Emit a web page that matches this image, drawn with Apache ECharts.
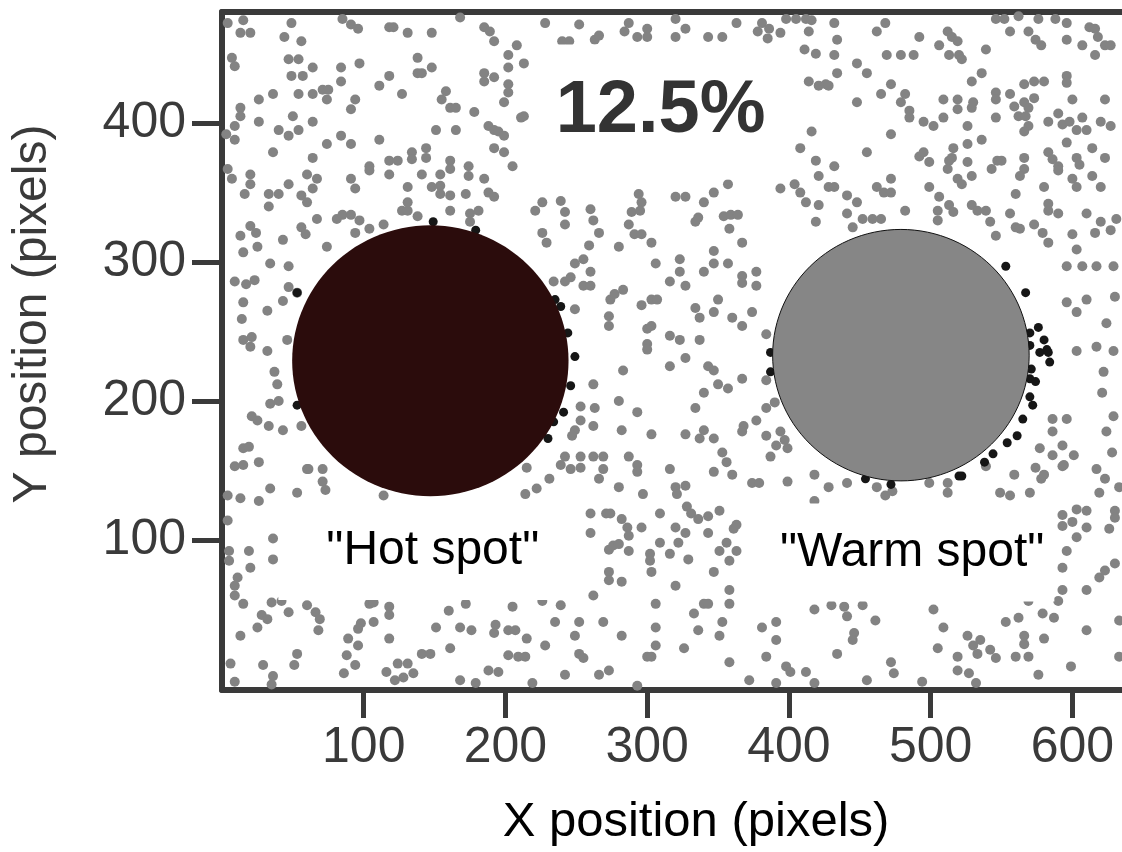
<!DOCTYPE html>
<html>
<head>
<meta charset="utf-8">
<script src="https://cdn.jsdelivr.net/npm/echarts@6/dist/echarts.min.js"></script>
<style>
html, body { margin: 0; padding: 0; background: #fff; }
#chart { width: 1122px; height: 852px; }
</style>
</head>
<body>
<div id="chart"></div>
<script>
var xTicks = [100, 200, 300, 400, 500, 600];
var yTicks = [100, 200, 300, 400];

// particle positions (x, y in pixels of the original frame)
var grayDots = [
  [15,474],[13,465],[20,465],[4,472],[49,472],[44,462],[56,459],[85,475],[91,471],[96,468],[118,469],[121,469],[131,465],[148,465],[168,476],[185,469],[189,466],[192,459],[208,456],[7,447],[9,441],[47,446],[54,446],[64,440],[84,440],[97,443],[138,447],[138,436],[141,436],[148,440],[49,434],[57,434],[84,430],[118,434],[111,427],[185,436],[185,430],[192,433],[202,449],[202,440],[202,428],[202,422],[71,424],[75,424],[74,417],[26,417],[36,421],[54,421],[64,421],[94,417],[91,410],[127,421],[158,423],[155,417],[161,411],[165,411],[178,408],[199,415],[13,411],[13,405],[9,398],[3,392],[9,388],[26,401],[50,405],[54,395],[47,391],[40,395],[64,401],[84,391],[91,385],[74,385],[111,388],[151,395],[165,395],[188,398],[192,395],[195,394],[199,391],[211,404],[192,382],[199,379],[36,379],[64,375],[104,369],[104,366],[118,373],[124,373],[134,379],[134,374],[144,382],[144,375],[161,373],[161,367],[174,369],[174,362],[205,369],[4,367],[7,360],[20,363],[20,356],[16,349],[60,363],[67,360],[64,353],[91,360],[94,353],[118,363],[141,363],[154,363],[154,355],[154,349],[148,354],[161,348],[172,349],[185,360],[188,350],[192,347],[47,356],[33,349],[40,349],[33,340],[56,348],[60,343],[131,354],[131,343],[127,337],[131,337],[161,337],[175,335],[175,329],[181,337],[67,331],[81,331],[85,334],[91,334],[97,330],[104,324],[114,327],[138,333],[20,326],[24,321],[13,319],[56,325],[59,320],[94,321],
  [228,472],[252,471],[240,459],[245,459],[263,460],[266,463],[284,466],[287,472],[293,462],[300,468],[300,462],[320,475],[320,462],[327,468],[343,462],[353,462],[363,472],[378,466],[381,472],[386,468],[385,461],[394,465],[398,475],[405,475],[412,475],[416,474],[414,466],[411,453],[419,450],[213,443],[213,405],[414,430],[421,427],[416,394],[408,382],[419,373],[421,362],[294,349],[296,343],[320,347],[327,347],[340,343],[347,350],[357,356],[394,353],[404,356],[408,350],[412,343],[221,337],[226,343],[239,344],[242,336],[242,327],[260,338],[262,330],[266,321],[289,336],[295,337],[287,327],[334,329],[336,332],[354,333],[359,334],[364,334],[358,324],[421,341],[419,329],[226,321],[291,320],[296,320],
  [432,472],[468,472],[462,466],[434,460],[432,449],[434,436],[492,462],[506,456],[512,466],[515,462],[519,459],[513,449],[520,449],[522,446],[539,453],[546,475],[552,475],[562,477],[576,475],[588,475],[596,472],[556,466],[569,466],[574,460],[578,456],[596,460],[607,456],[612,469],[616,468],[618,462],[623,456],[627,456],[616,449],[469,449],[479,449],[488,449],[448,443],[455,436],[426,428],[428,427],[529,430],[536,436],[566,428],[573,430],[580,430],[596,434],[596,429],[472,428],[465,421],[482,421],[479,415],[485,409],[485,404],[448,415],[509,417],[519,417],[519,410],[530,415],[529,411],[546,422],[546,417],[556,421],[559,412],[566,415],[569,411],[573,418],[562,405],[567,405],[569,398],[566,394],[600,417],[623,417],[495,401],[502,398],[509,404],[526,398],[546,404],[590,407],[583,401],[593,399],[598,401],[607,404],[603,395],[610,395],[620,401],[627,398],[472,392],[536,388],[526,385],[516,382],[596,386],[614,382],[455,379],[492,376],[495,379],[499,372],[513,373],[515,375],[512,367],[526,372],[529,362],[519,360],[522,356],[543,367],[547,373],[550,373],[566,375],[566,367],[563,362],[583,379],[586,374],[590,369],[590,366],[603,375],[605,370],[623,375],[432,369],[600,360],[603,354],[614,362],[472,360],[467,350],[472,350],[462,354],[428,354],[432,354],[499,354],[506,347],[560,349],[580,354],[620,354],[441,348],[448,343],[482,337],[505,337],[505,330],[513,341],[516,336],[529,341],[533,337],[539,337],[542,329],[556,335],[583,342],[583,337],[590,335],[610,335],[441,335],[452,331],[459,331],[465,331],[445,325],[560,325],[563,324],[573,327],[579,321],[546,319],[600,320],[620,329],[631,331],[627,323],[616,321],
  [303,314],[367,314],[229,314],[259,312],[255,302],[249,299],[260,293],[280,311],[306,299],[323,302],[323,293],[327,283],[340,293],[347,308],[347,299],[357,299],[367,290],[367,285],[377,293],[377,283],[234,286],[242,286],[246,289],[255,283],[260,283],[316,286],[274,273],[277,277],[283,280],[273,261],[273,254],[296,269],[303,273],[307,273],[300,252],[303,254],[300,241],[300,237],[249,266],[334,267],[337,260],[347,264],[350,273],[360,260],[367,254],[374,264],[316,247],[323,244],[337,244],[384,248],[327,231],[316,225],[343,225],[347,222],[350,212],[357,209],[340,206],[367,216],[384,215],[283,222],[262,212],[280,200],[293,192],[334,195],[253,196],[253,186],[249,179],[247,175],[263,195],[262,182],[282,179],[303,176],[327,176],[340,179],[337,173],[347,173],[368,182],[367,178],[377,186],[384,195],[390,199],[384,175],[394,178],[391,168],[397,172],[399,166],[239,154],[242,160],[246,151],[253,160],[253,152],[262,160],[269,160],[269,151],[266,144],[287,160],[293,154],[293,149],[353,163],[356,156],[360,147],[347,149],[316,151],[387,160],[231,144],[280,138],[320,138],[327,139],[321,133],[374,141],[379,141],[399,142],[297,133],
  [15,307],[25,311],[34,299],[47,297],[9,286],[17,284],[23,287],[15,271],[14,259],[15,244],[32,265],[43,272],[47,282],[53,278],[21,246],[32,236],[46,244],[74,311],[43,316],
  [20,239],[37,221],[39,212],[34,198],[40,200],[21,189],[25,186],[33,182],[43,179],[56,182],[15,166],[19,167],[9,153],[15,154],[26,156],[4,132],[13,130],[26,128],[34,137],[53,134],[61,151],[71,151],[71,142],[73,136],[60,151],[114,132],
  [4,114],[5,92],[5,85],[11,73],[9,67],[9,60],[15,54],[13,31],[28,46],[32,43],[25,37],[35,55],[42,56],[47,48],[60,53],[66,48],[69,43],[68,35],[19,92],[20,80],[36,86],[36,101],[104,54],[107,55],[118,52],[118,46],[98,40],[96,36],[107,41],[118,29],[89,29],[96,24],[151,37],[160,49],[172,54],[168,37],[176,35],[193,39],[192,33],[202,35],[207,35],[141,18],[147,18],[161,22],[124,11],[131,11],[128,1],[135,4],[116,5],[122,-1],[94,10],[86,4],[88,17],[53,18],[51,10],[29,10],[36,2],[6,11],[9,-2],[188,6],[195,5],[202,17],[209,16],[168,-1],[179,-3],[205,52],[35,-4],
  [215,152],[214,133],[222,137],[418,147],[418,128],[260,119],[260,105],[271,119],[274,119],[282,115],[286,109],[287,103],[287,92],[273,93],[276,96],[280,97],[296,109],[273,77],[273,71],[282,70],[302,90],[302,85],[303,77],[309,119],[309,98],[316,90],[320,109],[322,98],[327,105],[328,124],[331,119],[336,115],[343,117],[351,121],[329,86],[343,105],[351,92],[356,98],[361,108],[363,111],[363,92],[358,85],[347,77],[320,67],[262,60],[358,64],[358,54],[306,54],[340,54],[343,54],[333,47],[226,56],[239,53],[235,41],[252,41],[269,41],[249,31],[252,18],[255,15],[282,31],[215,29],[228,24],[306,37],[306,24],[336,35],[351,31],[353,41],[214,16],[300,16],[303,16],[326,22],[358,12],[381,37],[391,41],[391,28],[384,16],[398,9],[401,5],[412,5],[418,50],[242,3],[266,3],[273,6],[219,-3],[293,-5],[372,-1],[391,-3],[418,-3],
  [428,138],[441,141],[462,138],[468,132],[473,135],[499,141],[512,141],[512,134],[539,153],[559,147],[570,134],[578,144],[580,147],[574,152],[549,134],[556,132],[593,153],[619,134],[623,144],[633,138],[593,118],[593,110],[603,122],[610,121],[600,113],[610,109],[603,102],[596,92],[593,80],[593,64],[590,56],[610,64],[619,73],[623,78],[630,83],[626,108],[630,121],[630,116],[430,53],[439,52],[441,45],[452,53],[461,42],[446,33],[445,28],[434,18],[472,12],[474,4],[502,50],[509,37],[505,22],[526,31],[530,24],[533,18],[535,28],[542,21],[546,15],[519,16],[519,6],[527,4],[532,-3],[553,41],[562,44],[566,31],[566,25],[580,29],[560,16],[569,16],[576,3],[569,56],[579,47],[587,44],[610,35],[599,9],[633,42],[633,16],[455,-1],[494,-2],
  [583,314],[596,297],[607,297],[617,297],[629,297],[603,309],[596,271],[603,264],[610,273],[630,275],[624,256],[603,236],[617,239],[629,236],[622,221],[621,206],[629,189],[624,178],[628,163],[617,151],[586,187],[596,187],[586,178],[577,166],[593,168],[586,161],[601,161],[594,154]
];

// darker particles crowding the rims of the two spots
var darkDots = [
  [149,329],[179,323],[235,273],[239,268],[244,249],[249,232],[246,211],[241,192],[234,185],[230,173],[53,197],[53,278],
  [553,297],[567,278],[570,249],[576,253],[582,237],[580,244],[570,240],[577,235],[583,235],[570,216],[572,197],[565,187],[561,175],[554,170],[538,156],[522,146],[387,235],[387,221],[454,144],[472,140],[520,146],
  [584,228],[571,223],[574,214],[570,203],[544,162]
];

// spot = [x centre, y centre, radius]
var hotSpot = [147, 229, 97.5];
var warmSpot = [479, 233, 90.5];

var labelNames = ['12.5%', '"Hot spot"', '"Warm spot"'];
var labelSpots = [[313, 408], [148, 92], [478.5, 91]];

var FONT = "'Liberation Sans', Arial, sans-serif";
var AXIS_COLOR = '#3a3a3a';

var spotRender = function(fill, stroke) {
  return function(params, api) {
    var cx = api.value(0), cy = api.value(1), r = api.value(2);
    var pts = [];
    for (var a = 0; a < 360; a += 3) {
      var t = a * Math.PI / 180;
      pts.push(api.coord([cx + r * Math.cos(t), cy + r * Math.sin(t)]));
    }
    return {
      type: 'polygon',
      shape: { points: pts },
      style: { fill: fill, stroke: stroke, lineWidth: stroke ? 1 : 0 }
    };
  };
};

var labelStyles = [
  { fontSize: 74, lineHeight: 76, fontWeight: 'bold', color: '#333', padding: [30, 27, 29, 17] },
  { fontSize: 48, lineHeight: 48, color: '#000', padding: [18, 46, 32, 48] },
  { fontSize: 48, lineHeight: 48, color: '#000', padding: [18, 10, 32, 34] }
];

var labelData = [];
for (var i = 0; i < labelNames.length; i++) {
  var st = labelStyles[i];
  labelData.push({
    name: labelNames[i],
    value: labelSpots[i],
    label: {
      show: true,
      position: 'inside',
      formatter: '{b}',
      fontFamily: FONT,
      fontSize: st.fontSize,
      lineHeight: st.lineHeight,
      fontWeight: st.fontWeight || 'normal',
      color: st.color,
      backgroundColor: '#fff',
      padding: st.padding
    }
  });
}

var chart = echarts.init(document.getElementById('chart'));
var option = {
  animation: false,
  backgroundColor: '#fff',
  grid: { left: 222, right: 0, top: 12, bottom: 160 },
  xAxis: [
    {
      type: 'value',
      min: 0,
      max: 635,
      name: 'X position (pixels)',
      nameLocation: 'middle',
      nameGap: 108,
      nameTextStyle: { fontFamily: FONT, fontSize: 49, color: '#000', padding: [0, 0, 0, 48] },
      axisLine: { show: true, onZero: false, lineStyle: { color: AXIS_COLOR, width: 6 } },
      axisTick: { show: true, length: 28, customValues: xTicks, lineStyle: { color: AXIS_COLOR, width: 5 } },
      axisLabel: { customValues: xTicks, margin: 33, fontFamily: FONT, fontSize: 50, color: AXIS_COLOR },
      splitLine: { show: false }
    },
    {
      type: 'value',
      position: 'top',
      min: 0,
      max: 635,
      axisLine: { show: true, onZero: false, lineStyle: { color: AXIS_COLOR, width: 6 } },
      axisTick: { show: false },
      axisLabel: { show: false },
      splitLine: { show: false }
    }
  ],
  yAxis: {
    type: 'value',
    min: -8,
    max: 480,
    name: 'Y position (pixels)',
    nameLocation: 'middle',
    nameGap: 165,
    nameRotate: 90,
    nameTextStyle: { fontFamily: FONT, fontSize: 48, color: AXIS_COLOR, padding: [0, 0, 0, 74] },
    axisLine: { show: true, onZero: false, lineStyle: { color: AXIS_COLOR, width: 6 } },
    axisTick: { show: true, length: 30, customValues: yTicks, lineStyle: { color: AXIS_COLOR, width: 5 } },
    axisLabel: { customValues: yTicks, margin: 36, fontFamily: FONT, fontSize: 50, color: AXIS_COLOR },
    splitLine: { show: false }
  },
  series: [
    {
      name: 'particles',
      type: 'scatter',
      symbolSize: 10,
      itemStyle: { color: '#838383', opacity: 1 },
      data: grayDots,
      z: 1,
      silent: true
    },
    {
      name: 'rim',
      type: 'scatter',
      symbolSize: 9,
      itemStyle: { color: '#161616', opacity: 1 },
      data: darkDots,
      z: 1,
      silent: true
    },
    {
      name: 'hot',
      type: 'custom',
      renderItem: spotRender('#2b0c0c', null),
      data: [hotSpot],
      z: 2,
      silent: true
    },
    {
      name: 'warm',
      type: 'custom',
      renderItem: spotRender('#868686', '#111'),
      data: [warmSpot],
      z: 2,
      silent: true
    },
    {
      name: 'labels',
      type: 'scatter',
      symbolSize: 1,
      itemStyle: { color: 'rgba(0,0,0,0)', opacity: 1 },
      data: labelData,
      z: 5,
      silent: true
    }
  ]
};
chart.setOption(option);
</script>
</body>
</html>
